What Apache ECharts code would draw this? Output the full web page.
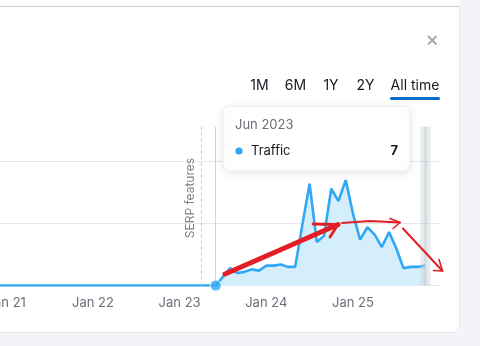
<!DOCTYPE html>
<html>
<head>
<meta charset="utf-8">
<script src="https://cdn.jsdelivr.net/npm/echarts@6/dist/echarts.min.js"></script>
<style>
  html, body { margin: 0; padding: 0; background: #ffffff; width: 492px; height: 346px; overflow: hidden; }
  #stripe { position: absolute; left: 460px; top: 0; width: 20px; height: 346px; background: #f3f4f8; }
  #bottom { position: absolute; left: 0; top: 332px; width: 480px; height: 14px; background: #f3f4f8; }
  #card { position: absolute; left: -10px; top: 6px; width: 469px; height: 325px; background: #ffffff;
          border-top: 1px solid #cfd0d6; border-right: 1px solid #e6e7eb; border-bottom: 1px solid #e6e7eb;
          border-radius: 0 0 8px 0; }
  #chart { position: absolute; left: 0; top: 0; width: 492px; height: 346px; }
</style>
</head>
<body>
<div id="stripe"></div>
<div id="bottom"></div>
<div id="card"></div>
<div id="chart"></div>
<script>
// ---- data ----
const monthNames = ['Jan','Feb','Mar','Apr','May','Jun','Jul','Aug','Sep','Oct','Nov','Dec'];
const years = [2020, 2021, 2022, 2023, 2024, 2025];
const lastCategory = 'Jan 2026';
const tickLabels = ['Jan 21', 'Jan 22', 'Jan 23', 'Jan 24', 'Jan 25'];
// Monthly traffic, Jan 2020 .. Jan 2026
const traffic = [
  0,0,0,0,0,0,0,0,0,0,0,0,          // 2020
  0,0,0,0,0,0,0,0,0,0,0,0,          // 2021
  0,0,0,0,0,0,0,0,0,0,0,0,          // 2022
  0,0,0,0,0,0,7,14,10,11,13,12,     // 2023
  16,16,17,15,15,49,82,35,40,78,68,85, // 2024
  58,37,47,41,31,43,30,14,15,15,16,null, // 2025
  null                               // Jan 2026
];
const yMax = 128;
const serpMonth = 'Apr 2023';
const serpLabel = 'SERP features';
const serpLabelFrom = 13;   // value span used to centre the SERP label
const hoverMonth = 'Jun 2023';
const lastDataMonth = 'Nov 2025';
const tooltipSeriesName = 'Traffic';
const tooltipValue = 7;
const ranges = ['1M', '6M', '1Y', '2Y', 'All time'];

const categories = [];
years.forEach(y => monthNames.forEach(m => categories.push(m + ' ' + y)));
categories.push(lastCategory);

const fmt = v => v.slice(0, 4) + v.slice(-2);
const hoverIndex = categories.indexOf(hoverMonth);

const BLUE = '#2fa9f4';
const RED = '#e41e26';
const FONT = 'Inter';

const chart = echarts.init(document.getElementById('chart'), null, { renderer: 'canvas' });

const rangeX = [259.5, 295.5, 331, 365.5, 415];
const graphic = [
  // close icon
  { type: 'line', shape: { x1: 428, y1: 36, x2: 436.5, y2: 44.5 }, style: { stroke: '#a3a5ad', lineWidth: 1.8 } },
  { type: 'line', shape: { x1: 436.5, y1: 36, x2: 428, y2: 44.5 }, style: { stroke: '#a3a5ad', lineWidth: 1.8 } },
  // underline under active range
  { type: 'rect', shape: { x: 390, y: 97, width: 50, height: 3, r: 1.5 }, style: { fill: '#006dca' } },
  // tooltip box
  { type: 'rect', z: 50, shape: { x: 223, y: 106, width: 187, height: 65, r: 6 },
    style: { fill: '#ffffff', stroke: '#eceef1', lineWidth: 1, shadowBlur: 10, shadowColor: 'rgba(0,0,0,0.10)', shadowOffsetY: 2 } },
  { type: 'text', z: 51, x: 235, y: 125, style: { text: hoverMonth, fill: '#6c6e79', font: '13px ' + FONT, textVerticalAlign: 'middle' } },
  { type: 'circle', z: 51, shape: { cx: 239, cy: 151, r: 3.6 }, style: { fill: BLUE } },
  { type: 'text', z: 51, x: 251, y: 151, style: { text: tooltipSeriesName, fill: '#171a22', font: '13px ' + FONT, textVerticalAlign: 'middle' } },
  { type: 'text', z: 51, x: 398, y: 151, style: { text: String(tooltipValue), fill: '#171a22', font: 'bold 13px ' + FONT, textAlign: 'right', textVerticalAlign: 'middle' } },
  // red hand-drawn arrows
  { type: 'polyline', z: 60, shape: { points: [[225, 274], [280, 250], [338, 224.5]] }, style: { stroke: RED, lineWidth: 5, lineCap: 'round', fill: null } },
  { type: 'polyline', z: 60, shape: { points: [[313, 224], [338, 224.5], [330, 237]] }, style: { stroke: RED, lineWidth: 2.8, lineCap: 'round', lineJoin: 'round', fill: null } },
  { type: 'polyline', z: 60, shape: { points: [[342, 223], [370, 221], [400, 222.5]] }, style: { stroke: RED, lineWidth: 2, lineCap: 'round', fill: null } },
  { type: 'polyline', z: 60, shape: { points: [[390, 218.5], [400, 222.5], [393, 228.5]] }, style: { stroke: RED, lineWidth: 1.6, lineCap: 'round', lineJoin: 'round', fill: null } },
  { type: 'line', z: 60, shape: { x1: 403, y1: 228.5, x2: 442.5, y2: 271 }, style: { stroke: RED, lineWidth: 2, lineCap: 'round' } },
  { type: 'polyline', z: 60, shape: { points: [[439, 259.5], [442.5, 271], [433.5, 270.5]] }, style: { stroke: RED, lineWidth: 1.6, lineCap: 'round', lineJoin: 'round', fill: null } }
];
ranges.forEach((r, i) => {
  graphic.push({ type: 'text', x: rangeX[i], y: 86, style: { text: r, fill: '#171a22', font: '14px ' + FONT, textAlign: 'center', textVerticalAlign: 'middle' } });
});

const option = {
  animation: false,
  textStyle: { fontFamily: FONT },
  grid: { left: -80.4, right: 52.4, top: 126.7, bottom: 60.5, containLabel: false, outerBoundsMode: 'none' },
  xAxis: {
    type: 'category',
    data: categories,
    boundaryGap: false,
    axisLine: { show: true, lineStyle: { color: '#e4e5ea', width: 1 } },
    axisTick: { show: false },
    splitLine: { show: false },
    axisLabel: {
      color: '#6c6e79', fontSize: 13, fontFamily: FONT, margin: 11,
      interval: (i, v) => tickLabels.includes(fmt(v)),
      formatter: v => fmt(v)
    }
  },
  yAxis: {
    type: 'value', min: 0, max: yMax, interval: 50,
    axisLabel: { show: false }, axisLine: { show: false }, axisTick: { show: false },
    splitLine: { show: true, showMaxLine: false, lineStyle: { color: '#e6e7ec', width: 1 } }
  },
  series: [
    {
      type: 'line', name: tooltipSeriesName, data: traffic,
      symbol: 'none', connectNulls: false,
      lineStyle: { color: BLUE, width: 2.6 },
      areaStyle: { color: '#d5eefc', opacity: 1 },
      z: 3,
      markLine: {
        silent: true, symbol: ['none', 'none'], animation: false,
        data: [
          { xAxis: lastDataMonth, lineStyle: { color: 'rgba(205,211,216,0.42)', width: 10.5, type: 'solid' }, label: { show: false } },
          { xAxis: lastDataMonth, lineStyle: { color: 'rgba(180,188,194,0.35)', width: 3.4, type: 'solid' }, label: { show: false } },
          { xAxis: serpMonth, lineStyle: { color: '#c3c5cc', width: 1, type: [3, 3] }, label: { show: false } },
          [
            { coord: [serpMonth, serpLabelFrom], lineStyle: { color: 'rgba(255,255,255,0)', width: 1 },
              label: { show: true, formatter: serpLabel, position: 'insideMiddleTop', color: '#80828c', fontSize: 12, fontFamily: FONT, distance: 5 } },
            { coord: [serpMonth, yMax] }
          ],
          { xAxis: hoverMonth, lineStyle: { color: '#d0d2d8', width: 1, type: 'solid' }, label: { show: false } }
        ]
      }
    },
    {
      type: 'scatter', data: [[hoverMonth, traffic[hoverIndex]]],
      symbol: 'circle', symbolSize: 11, z: 5,
      itemStyle: { color: BLUE, borderColor: '#ffffff', borderWidth: 1 }
    }
  ],
  graphic: graphic
};
chart.setOption(option);
</script>
</body>
</html>
